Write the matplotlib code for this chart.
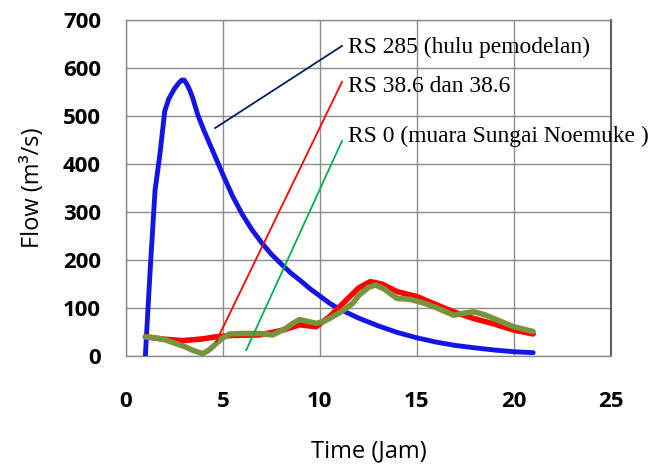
import matplotlib
matplotlib.use("Agg")
import matplotlib.pyplot as plt

# Hydrograph values (time in hours, flow in m3/s)
t_hulu = [1, 1.25, 1.5, 1.75, 2.0, 2.2, 2.5, 2.75, 2.88, 3.0, 3.15, 3.3,
          3.44, 3.7, 4.0, 4.5, 5, 5.5, 6, 6.5, 7, 7.5, 8, 8.5, 9, 9.5, 10,
          10.5, 11, 12, 13, 14, 15, 16, 17, 18, 19, 20, 21]
q_hulu = [0, 180, 345, 420, 510, 535, 557, 570, 575, 575, 566, 553,
          538, 503, 472, 425, 378, 333, 295, 263, 236, 212, 192, 173, 157,
          140, 125, 110, 98, 79, 63, 49, 38, 29, 22, 17, 12.5, 9, 7]

t_tengah = [1, 2, 2.93, 4, 4.65, 5.5, 6.9, 8.1, 8.95, 9.8, 10.5, 11.2, 12,
            12.6, 13.2, 14, 15, 16, 16.9, 17.94, 18.97, 20, 21]
q_tengah = [40, 35, 32, 36, 40, 43, 44, 54, 65, 61, 82, 110, 142,
            155, 150, 134, 124, 107, 92, 78, 67, 54, 46]

t_muara = [1, 1.5, 2, 2.58, 3, 3.5, 3.96, 4.3, 4.65, 5, 5.34, 6, 6.89, 7.58,
           8.26, 8.6, 8.95, 9.4, 9.82, 10.2, 10.67, 11.2, 11.7, 12, 12.5,
           12.86, 13.3, 13.98, 14.67, 15.3, 15.87, 16.9, 17.4, 17.94, 18.5,
           18.97, 20, 21]
q_muara = [40, 38, 34, 26, 20, 11, 5, 13, 26, 38, 46, 47, 47, 44,
           58, 68, 76, 72, 68, 72, 82, 95, 110, 126, 143,
           148, 140, 120, 118, 111, 103, 85, 89, 92, 86,
           78, 61, 51]

labels = ["RS 285 (hulu pemodelan)", "RS 38.6 dan 38.6",
          "RS 0 (muara Sungai Noemuke )"]

fig = plt.figure(figsize=(6.56, 4.66), dpi=100)
ax = fig.add_axes([0.192, 0.236, 0.739, 0.721])

ax.plot(t_hulu, q_hulu, color="#1414E6", lw=3.5, solid_joinstyle="round",
        solid_capstyle="round", zorder=3)
ax.plot(t_tengah, q_tengah, color="#FF0000", lw=4.0, solid_joinstyle="round",
        solid_capstyle="round", zorder=3)
ax.plot(t_muara, q_muara, color="#77933C", lw=4.0, solid_joinstyle="round",
        solid_capstyle="round", zorder=4)

ax.set_xlim(0, 25)
ax.set_ylim(0, 700)
ax.set_xticks(range(0, 26, 5))
ax.set_yticks(range(0, 701, 100))
ax.grid(True, color="#8C8C8C", lw=1.0)
ax.set_axisbelow(True)
for s in ax.spines.values():
    s.set_color("#8C8C8C")
    s.set_linewidth(1.0)
ax.spines["right"].set_color("#606060")
ax.spines["right"].set_linewidth(1.5)
ax.tick_params(length=0)
ax.tick_params(axis="x", pad=25)
ax.tick_params(axis="y", pad=18)
for lab in ax.get_xticklabels() + ax.get_yticklabels():
    lab.set_fontfamily("Open Sans")
    lab.set_fontweight("bold")
    lab.set_fontsize(16)

ax.set_xlabel("Time (Jam)", fontfamily="Open Sans", fontsize=17, labelpad=20)
ax.set_ylabel("Flow (m³/s)", fontfamily="Open Sans", fontsize=17, labelpad=13)

# callout lines with labels
callouts = [((4.6, 475), (11.14, 646), "#002060", 644),
            ((4.65, 30), (11.14, 571), "#FF0000", 562),
            ((6.2, 12), (11.14, 448), "#00B050", 458)]
for (p0, p1, c, ty), lab in zip(callouts, labels):
    ax.plot([p0[0], p1[0]], [p0[1], p1[1]], color=c, lw=1.3, zorder=5)
    ax.text(11.45, ty, lab, fontfamily="Liberation Serif", fontsize=16.9,
            va="center", ha="left", zorder=6)

fig.savefig("out.png", dpi=100)
